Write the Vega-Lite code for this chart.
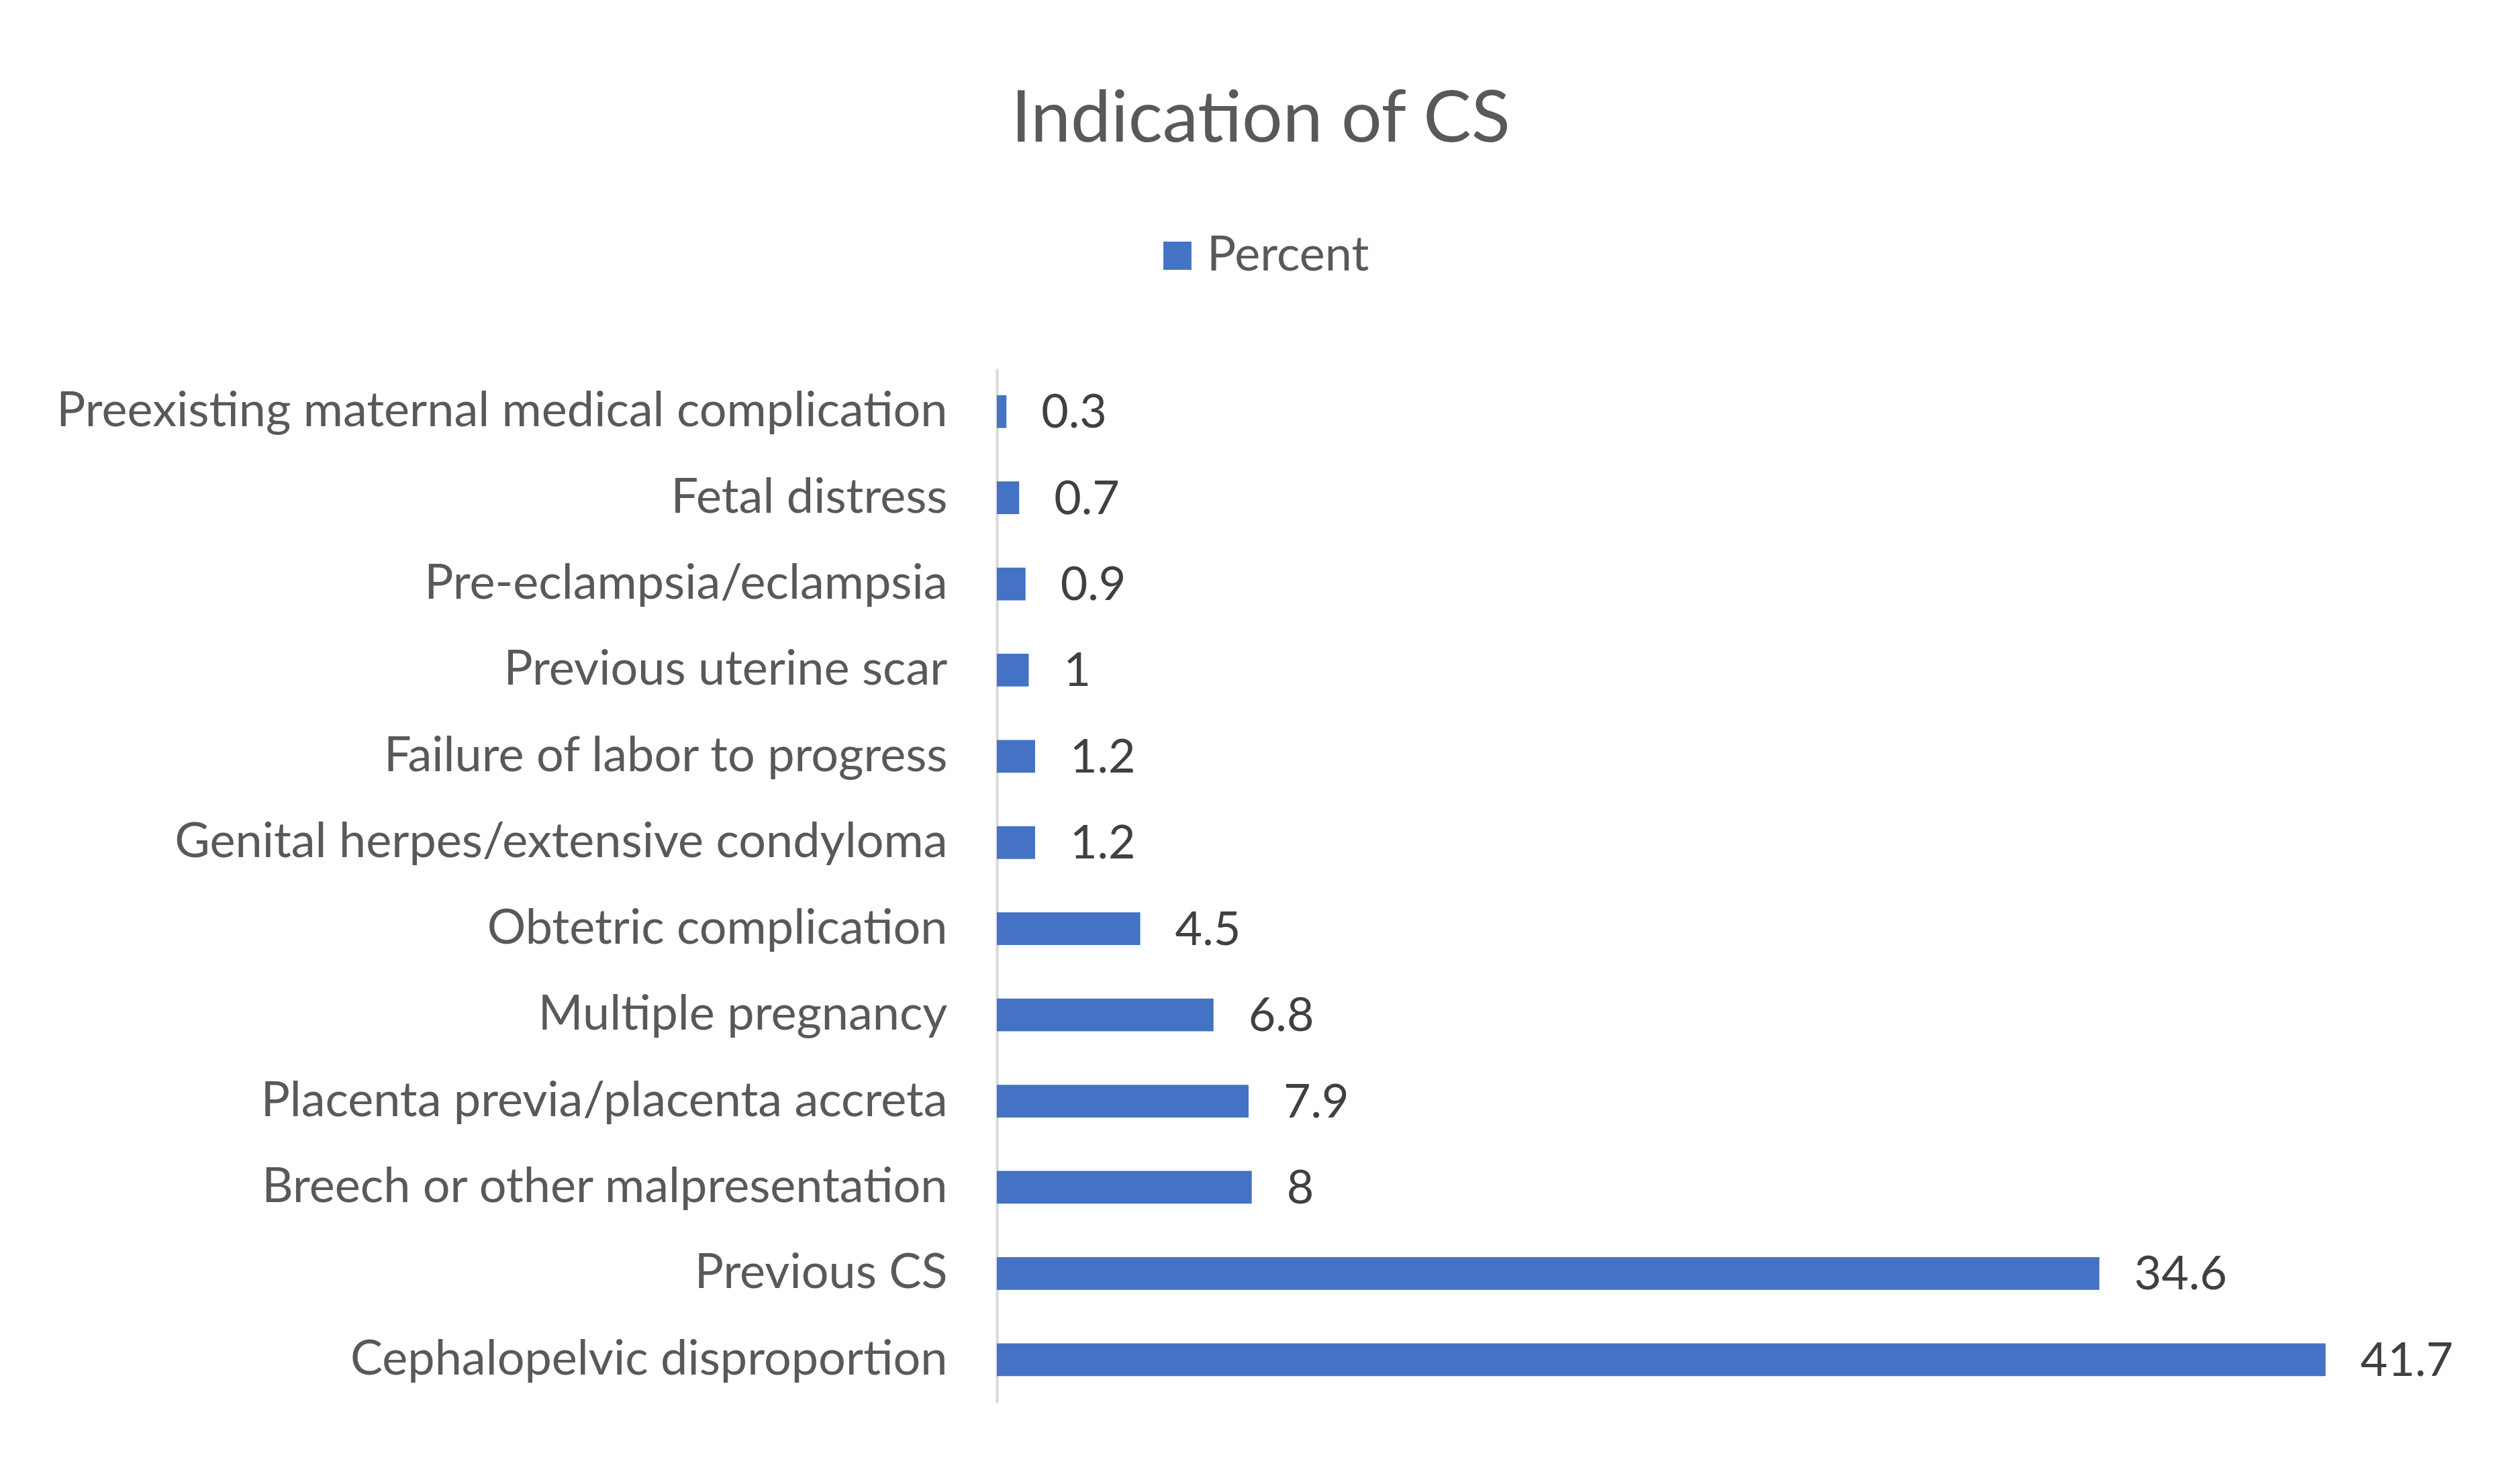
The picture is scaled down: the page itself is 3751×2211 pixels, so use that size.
{
  "$schema": "https://vega.github.io/schema/vega-lite/v6.json",
  "autosize": {"type": "none"},
  "padding": {"left": 1485, "top": 549, "right": 130, "bottom": 121},
  "width": 2136,
  "height": 1541,
  "background": "white",
  "config": {"view": {"stroke": null}, "font": "Lato"},
  "title": {
    "text": "Indication of CS",
    "fontSize": 107,
    "fontWeight": "normal",
    "color": "#595959",
    "anchor": "middle",
    "frame": "group",
    "dx": -675,
    "offset": 112
  },
  "data": {
    "values": [
      {"indication": "Preexisting maternal medical complication", "percent": 0.3},
      {"indication": "Fetal distress", "percent": 0.7},
      {"indication": "Pre-eclampsia/eclampsia", "percent": 0.9},
      {"indication": "Previous uterine scar", "percent": 1},
      {"indication": "Failure of labor to progress", "percent": 1.2},
      {"indication": "Genital herpes/extensive condyloma", "percent": 1.2},
      {"indication": "Obtetric complication", "percent": 4.5},
      {"indication": "Multiple pregnancy", "percent": 6.8},
      {"indication": "Placenta previa/placenta accreta", "percent": 7.9},
      {"indication": "Breech or other malpresentation", "percent": 8},
      {"indication": "Previous CS", "percent": 34.6},
      {"indication": "Cephalopelvic disproportion", "percent": 41.7}
    ]
  },
  "encoding": {
    "y": {
      "field": "indication",
      "type": "nominal",
      "sort": null,
      "scale": {"paddingInner": 0.62, "paddingOuter": 0.31},
      "axis": {
        "title": null,
        "ticks": false,
        "labelFontSize": 72,
        "labelColor": "#595959",
        "labelPadding": 74,
        "labelLimit": 2000,
        "domainColor": "#d9d9d9",
        "domainWidth": 4
      }
    },
    "x": {
      "field": "percent",
      "type": "quantitative",
      "scale": {"domain": [0, 45], "nice": false},
      "axis": null
    }
  },
  "layer": [
    {
      "mark": {"type": "bar", "color": "#4472C4"},
      "encoding": {
        "color": {
          "datum": "Percent",
          "scale": {"range": ["#4472C4"]},
          "legend": {
            "title": null,
            "orient": "none",
            "legendX": 233,
            "legendY": -204,
            "symbolType": "square",
            "symbolSize": 1750,
            "symbolStrokeWidth": 0,
            "labelFontSize": 72,
            "labelColor": "#595959",
            "labelOffset": 8,
            "labelLimit": 1000
          }
        }
      }
    },
    {
      "mark": {"type": "text", "align": "left", "baseline": "middle", "dx": 52, "dy": 3, "fontSize": 70, "color": "#404040"},
      "encoding": {"text": {"field": "percent", "type": "quantitative"}}
    }
  ]
}
